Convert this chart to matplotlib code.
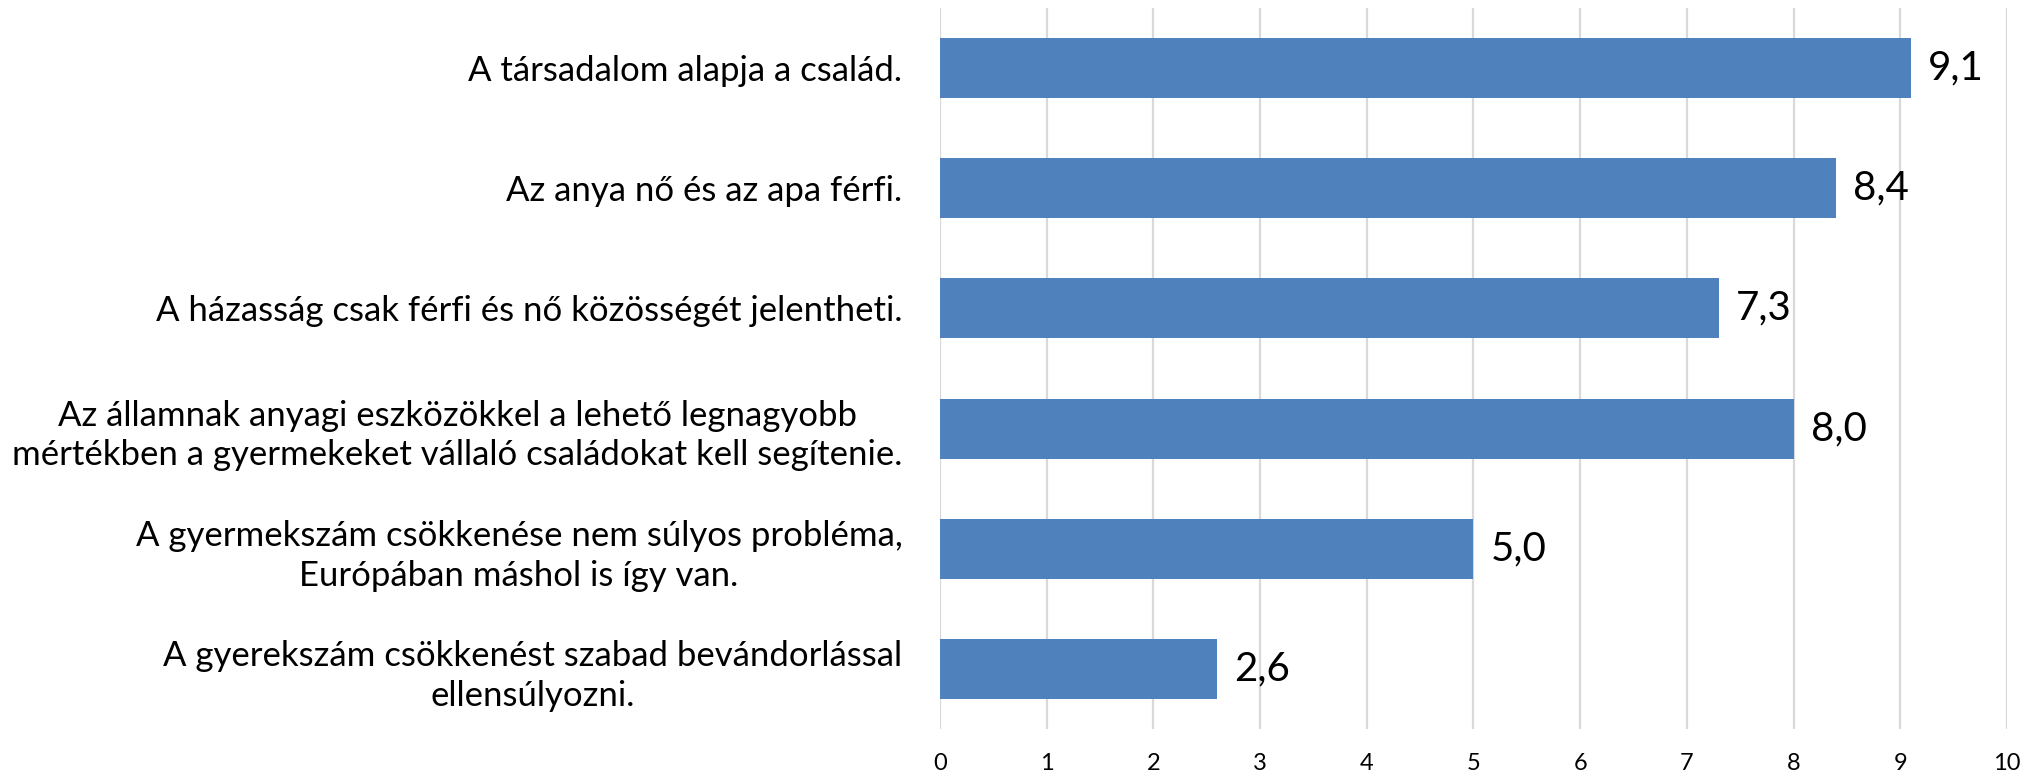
import matplotlib.pyplot as plt
import numpy as np

# adatok
allitasok = [
    "A társadalom alapja a család.",
    "Az anya nő és az apa férfi.",
    "A házasság csak férfi és nő közösségét jelentheti.",
    "Az államnak anyagi eszközökkel a lehető legnagyobb\nmértékben a gyermekeket vállaló családokat kell segítenie.",
    "A gyermekszám csökkenése nem súlyos probléma,\nEurópában máshol is így van.",
    "A gyerekszám csökkenést szabad bevándorlással\nellensúlyozni.",
]
ertekek = [9.1, 8.4, 7.3, 8.0, 5.0, 2.6]
xtick_ertekek = list(range(0, 11))

plt.rcParams['font.family'] = ['Lato', 'DejaVu Sans']

fig = plt.figure(figsize=(20.3, 7.76), dpi=100)
ax = fig.add_axes([0.463, 0.0606, 0.5257, 0.9291])

y = np.arange(len(allitasok))
bars = ax.barh(y, ertekek, height=0.5, color='#4F81BD', zorder=3)
ax.set_ylim(len(allitasok) - 0.5, -0.5)
ax.set_xlim(0, 10)

ax.set_xticks(xtick_ertekek)
ax.set_xticklabels([str(v) for v in xtick_ertekek], fontsize=17)
ax.set_yticks(y)
ax.set_yticklabels(allitasok, fontsize=25, multialignment='center',
                   linespacing=1.3)
ax.tick_params(axis='y', length=0, pad=27)
ax.tick_params(axis='x', length=0, pad=17)

ax.grid(axis='x', color='#D9D9D9', linewidth=1.6, zorder=0)
for s in ax.spines.values():
    s.set_visible(False)

for b, v in zip(bars, ertekek):
    ax.text(b.get_width() + 0.16, b.get_y() + b.get_height() / 2,
            f"{v:.1f}".replace('.', ','), va='center', ha='left', fontsize=29)

fig.savefig('out.png', dpi=100)
